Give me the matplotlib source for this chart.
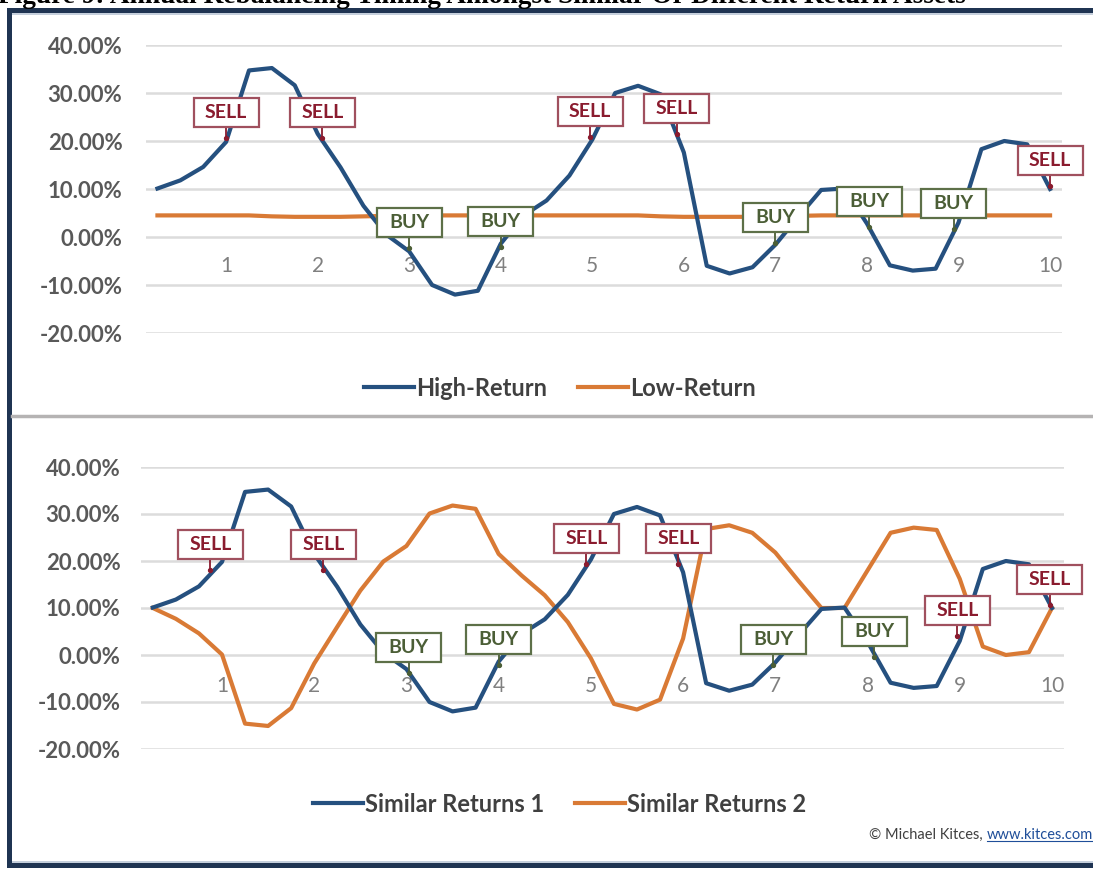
import matplotlib
matplotlib.use("Agg")
import matplotlib.pyplot as plt
import matplotlib.transforms as mtransforms
from matplotlib.patches import Rectangle
from matplotlib.lines import Line2D

# ---------------- data (percent) ----------------
quarters = list(range(1, 41))
year_ticks = [4, 8, 12, 16, 20, 24, 28, 32, 36, 40]
year_labels = ["1", "2", "3", "4", "5", "6", "7", "8", "9", "10"]
y_ticks = [-20, -10, 0, 10, 20, 30, 40]

high_return = [10.1, 11.8, 14.6, 19.8, 34.7, 35.2, 31.6, 21.5, 14.5, 6.5,
               0.5, -3.0, -10.0, -12.0, -11.2, -1.4, 4.5, 7.6, 12.8, 20.3,
               30.0, 31.5, 29.7, 17.6, -6.0, -7.6, -6.3, -1.6, 4.2, 9.8,
               10.1, 2.8, -5.9, -7.0, -6.6, 3.0, 18.3, 20.0, 19.3, 10.0]
low_return = [4.5, 4.5, 4.5, 4.5, 4.5, 4.3, 4.2, 4.2, 4.2, 4.3,
              4.4, 4.5, 4.5, 4.5, 4.5, 4.5, 4.5, 4.5, 4.5, 4.5,
              4.5, 4.5, 4.3, 4.2, 4.2, 4.2, 4.2, 4.3, 4.4, 4.5,
              4.5, 4.5, 4.5, 4.5, 4.5, 4.5, 4.5, 4.5, 4.5, 4.5]
similar_1 = [10.1, 11.8, 14.6, 19.8, 34.7, 35.2, 31.6, 21.5, 14.5, 6.5,
             0.5, -3.0, -10.0, -12.0, -11.2, -1.4, 4.5, 7.6, 12.8, 20.3,
             30.0, 31.5, 29.7, 17.6, -6.0, -7.6, -6.3, -1.6, 4.2, 9.8,
             10.1, 2.8, -5.9, -7.0, -6.6, 3.0, 18.3, 20.0, 19.3, 10.0]
similar_2 = [10.0, 7.7, 4.6, 0.1, -14.6, -15.1, -11.3, -1.8, 6.0, 13.7,
             19.9, 23.2, 30.1, 31.8, 31.1, 21.5, 16.9, 12.7, 7.0, -0.7,
             -10.4, -11.6, -9.5, 3.5, 26.8, 27.6, 26.0, 21.8, 15.8, 10.0,
             10.0, 18.0, 26.0, 27.1, 26.6, 16.2, 1.8, 0.0, 0.6, 10.0]

# rebalancing call-outs: (label, quarter position, value at pointer tip)
top_marks = [("SELL", 4.0, 20.6), ("SELL", 8.2, 20.7), ("BUY", 12.0, -2.3),
             ("BUY", 16.0, -2.1), ("SELL", 19.9, 20.8), ("SELL", 23.7, 21.4),
             ("BUY", 28.0, -1.2), ("BUY", 32.1, 2.1), ("BUY", 35.8, 1.6),
             ("SELL", 40.0, 10.7)]
bottom_marks = [("SELL", 3.5, 18.1), ("SELL", 8.4, 18.1), ("BUY", 12.1, -3.8),
                ("BUY", 16.0, -2.1), ("SELL", 19.8, 19.4), ("SELL", 23.8, 19.4),
                ("BUY", 27.9, -2.1), ("BUY", 32.3, -0.4), ("SELL", 35.9, 4.0),
                ("SELL", 39.9, 10.6)]

# ---------------- style ----------------
W, H = 1093, 869
BLUE = "#25507f"
ORANGE = "#d97a35"
GRID = "#dcdcdc"
NAVY = "#1f3452"
FONT = "Lato"

fig = plt.figure(figsize=(W / 100, H / 100), dpi=100)
fig.patch.set_facecolor("white")


def px_axes(x0, x1, ytop, ybot):
    return fig.add_axes([x0 / W, 1 - ybot / H, (x1 - x0) / W, (ybot - ytop) / H])


def style_axes(ax, ylab_pad, xlab_pad):
    for s in ["top", "right", "left"]:
        ax.spines[s].set_visible(False)
    ax.spines["bottom"].set_position(("data", 0))
    ax.spines["bottom"].set_visible(False)
    ax.set_xlim(0.5, 40.5)
    ax.set_ylim(-20, 40)
    ax.set_yticks(y_ticks)
    ax.set_yticklabels([f"{v:.2f}%" for v in y_ticks])
    ax.set_xticks(year_ticks)
    ax.set_xticklabels(year_labels)
    ax.tick_params(axis="y", length=0, pad=ylab_pad, labelsize=16, labelcolor="#595959")
    ax.tick_params(axis="x", length=0, pad=xlab_pad, labelsize=15, labelcolor="#808080")
    for t in ax.get_yticklabels():
        t.set_fontfamily(FONT)
        t.set_fontweight("bold")
    for t in ax.get_xticklabels():
        t.set_fontfamily(FONT)
    ax.grid(axis="y", color=GRID, lw=1.8)
    ax.set_axisbelow(True)


def add_marks(ax, marks):
    for lab, xq, yv in marks:
        if lab == "SELL":
            tc, ec = "#8a1b2e", "#a0505e"
        else:
            tc, ec = "#4b5e36", "#5d7048"
        px, py = ax.transData.transform((xq, yv))
        tr = mtransforms.Affine2D().translate(px, py)
        fig.add_artist(Line2D([0, 0], [0, 11], transform=tr, color=tc, lw=1.3, zorder=5))
        fig.add_artist(Line2D([0], [0], transform=tr, marker="o", ms=2.8, color=tc, zorder=6))
        fig.add_artist(Rectangle((-32.5, 11), 65, 29, transform=tr, fc="white", ec=ec,
                                 lw=1.6, zorder=5))
        fig.text(0, 25.5, lab, transform=tr, ha="center", va="center",
                 fontsize=14, fontweight="bold", fontfamily=FONT, color=tc, zorder=7)


# ---------------- top panel ----------------
ax1 = px_axes(146, 1061.5, 45, 333)
style_axes(ax1, 17, 14)
l1, = ax1.plot(quarters, high_return, color=BLUE, lw=3.0, solid_joinstyle="round",
               label="High-Return", zorder=3)
l2, = ax1.plot(quarters, low_return, color=ORANGE, lw=3.0, label="Low-Return", zorder=2)
add_marks(ax1, top_marks)
leg1 = fig.legend(handles=[l1, l2], loc="center", bbox_to_anchor=(560 / W, 1 - 388 / H),
                  ncol=2, frameon=False, handlelength=2.1, handletextpad=0.1,
                  columnspacing=1.3,
                  prop=dict(family=FONT, weight="bold", size=17))
for t in leg1.get_texts():
    t.set_color("#404040")

# separator
fig.add_artist(Line2D([12 / W, 1.0], [1 - 416 / H, 1 - 416 / H], color="#b5b3b3", lw=2.5))

# ---------------- bottom panel ----------------
ax2 = px_axes(141.3, 1063.5, 467, 749)
style_axes(ax2, 15, 15)
m1, = ax2.plot(quarters, similar_1, color=BLUE, lw=3.0, solid_joinstyle="round",
               label="Similar Returns 1", zorder=3)
m2, = ax2.plot(quarters, similar_2, color=ORANGE, lw=3.0, solid_joinstyle="round",
               label="Similar Returns 2", zorder=2)
add_marks(ax2, bottom_marks)
leg2 = fig.legend(handles=[m1, m2], loc="center", bbox_to_anchor=(560 / W, 1 - 804 / H),
                  ncol=2, frameon=False, handlelength=2.1, handletextpad=0.1,
                  columnspacing=1.3,
                  prop=dict(family=FONT, weight="bold", size=17))
for t in leg2.get_texts():
    t.set_color("#404040")

# ---------------- credits & frame ----------------
url = fig.text(1093 / W, 1 - 835 / H, "www.kitces.com", ha="right", va="center",
               fontsize=10.5, fontfamily=FONT, color="#1f4e99")
fig.canvas.draw()
bb = url.get_window_extent()
fig.add_artist(Line2D([bb.x0 / W, bb.x1 / W], [(bb.y0 + 1) / H, (bb.y0 + 1) / H],
                      color="#1f4e99", lw=0.8))
fig.text(bb.x0 / W, 1 - 835 / H, "\u00a9 Michael Kitces, ", ha="right", va="center",
         fontsize=10.5, fontfamily=FONT, color="#404040")

fig.text(-2 / W, 1 - 3 / H,
         "Figure 9: Annual Rebalancing Timing Amongst Similar Or Different Return Assets",
         ha="left", va="baseline", fontsize=19.7, fontweight="bold",
         fontfamily="Liberation Serif", color="black")

fig.add_artist(Rectangle((7 / W, 1 - 13 / H), 1.0, 5 / H, transform=fig.transFigure,
                         color=NAVY, lw=0))
fig.add_artist(Rectangle((12 / W, 1 - 15 / H), 1.0, 2 / H, transform=fig.transFigure,
                         color="#c5cfdc", lw=0))
fig.add_artist(Rectangle((7 / W, 1 - 868 / H), 5 / W, 860 / H, transform=fig.transFigure,
                         color=NAVY, lw=0))
fig.add_artist(Rectangle((7 / W, 1 - 868 / H), 1.0, 5 / H, transform=fig.transFigure,
                         color=NAVY, lw=0))
fig.add_artist(Rectangle((12 / W, 1 - 863 / H), 1.0, 2 / H, transform=fig.transFigure,
                         color="#c5cfdc", lw=0))

fig.savefig("out.png", dpi=100, facecolor="white")
